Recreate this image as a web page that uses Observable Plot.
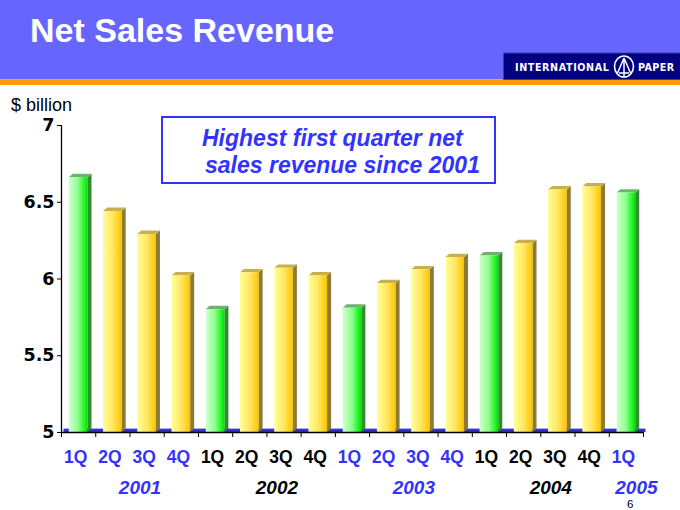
<!DOCTYPE html>
<html>
<head>
<meta charset="utf-8">
<script src="https://cdn.jsdelivr.net/npm/d3@7"></script>
<script src="https://cdn.jsdelivr.net/npm/@observablehq/plot@0.6"></script>
<style>
  html, body { margin: 0; padding: 0; background: #ffffff; }
  #wrap { position: relative; width: 680px; height: 510px; overflow: hidden; font-family: "Liberation Sans", Arial, sans-serif; }
  #chart { position: absolute; left: 0; top: 0; }
  #overlay { position: absolute; left: 0; top: 0; }
</style>
</head>
<body>
<div id="wrap">
  <div id="chart"></div>
  <svg id="overlay" width="680" height="510" xmlns="http://www.w3.org/2000/svg" style="pointer-events:none">
    <rect x="0" y="0" width="680" height="79.5" fill="#6666ff"/>
    <rect x="0" y="79.5" width="680" height="5.5" fill="#ff9900"/>
    <text x="30" y="42" fill="#ffffff" font-family="Liberation Sans, Arial, sans-serif" font-weight="bold" font-size="34">Net Sales Revenue</text>
    <rect x="503.5" y="53" width="177" height="26.5" fill="#000080" stroke="#3c3cb4" stroke-width="1"/>
    <text x="515" y="70.5" fill="#ffffff" font-family="DejaVu Sans, sans-serif" font-weight="bold" font-size="9.6" letter-spacing="0.6">INTERNATIONAL</text>
    <ellipse cx="624" cy="66.5" rx="9.5" ry="10.5" fill="none" stroke="#ffffff" stroke-width="1.6"/>
    <path d="M624,58 L617.5,73 M624,58 L630.5,73 M624,58 L624,77 M619,73 L629,73" fill="none" stroke="#ffffff" stroke-width="1.5"/>
    <text x="638" y="70.5" fill="#ffffff" font-family="DejaVu Sans, sans-serif" font-weight="bold" font-size="9.6" letter-spacing="0.4">PAPER</text>
    <text x="11" y="111" fill="#000000" font-family="Liberation Sans, Arial, sans-serif" font-size="18">$ billion</text>
    <rect x="162" y="117" width="333" height="66" fill="#ffffff" stroke="#3333ff" stroke-width="2"/>
    <text x="202" y="146" fill="#3333ff" font-family="Liberation Sans, Arial, sans-serif" font-weight="bold" font-style="italic" font-size="23">Highest first quarter net</text>
    <text x="205" y="173" fill="#3333ff" font-family="Liberation Sans, Arial, sans-serif" font-weight="bold" font-style="italic" font-size="23">sales revenue since 2001</text>
    <text x="627" y="508" fill="#000000" font-family="Liberation Sans, Arial, sans-serif" font-size="11.5">6</text>
  </svg>
</div>
<script>
// ---- data ----
const quarters = ["1Q","2Q","3Q","4Q","1Q","2Q","3Q","4Q","1Q","2Q","3Q","4Q","1Q","2Q","3Q","4Q","1Q"];
const years    = ["2001","2001","2001","2001","2002","2002","2002","2002","2003","2003","2003","2003","2004","2004","2004","2004","2005"];
const revenue  = [6.66, 6.44, 6.29, 6.02, 5.80, 6.04, 6.07, 6.02, 5.81, 5.97, 6.06, 6.14, 6.15, 6.23, 6.58, 6.60, 6.56];
const yearLabels = ["2001","2002","2003","2004","2005"];
const yTicks = [5, 5.5, 6, 6.5, 7];

// ---- styling constants ----
const BLUE = "#3333ff", BLACK = "#000000";
const HW = 0.272, DX = 0.118, DY = 0.022;
const yearColor = y => (yearLabels.indexOf(y) % 2 === 0 ? BLUE : BLACK);

const data = quarters.map((q, i) => ({i, q, year: years[i], v: revenue[i]}));
const N = data.length;
const isQ1 = d => d.q === "1Q";

const sideFaces = data.flatMap(d => [
  {id: d.i, q: d.q, x: d.i + HW, y1: 5, y2: d.v},
  {id: d.i, q: d.q, x: d.i + HW + DX, y1: 5 + DY, y2: d.v + DY}
]);
const topFaces = data.flatMap(d => [
  {id: d.i, q: d.q, x: d.i - HW, y1: d.v, y2: d.v},
  {id: d.i, q: d.q, x: d.i - HW + DX, y1: d.v, y2: d.v + DY},
  {id: d.i, q: d.q, x: d.i + HW, y1: d.v, y2: d.v + DY},
  {id: d.i, q: d.q, x: d.i + HW + DX, y1: d.v + DY, y2: d.v + DY}
]);
const yearPos = yearLabels.map(y => ({
  year: y,
  x: d3.mean(data.filter(d => d.year === y), d => d.i)
}));
const bounds = d3.range(N + 1).map(k => k - 0.5);

const chart = Plot.plot({
  width: 680,
  height: 510,
  marginLeft: 61,
  marginRight: 37,
  marginTop: 125,
  marginBottom: 78,
  x: {type: "linear", domain: [-0.5, N - 0.5]},
  y: {domain: [5, 7]},
  color: {type: "identity"},
  style: {fontFamily: "Liberation Sans, Arial, sans-serif", background: "transparent", overflow: "visible"},
  marks: [
    // floor
    Plot.rect([0], {x1: -0.5, x2: N - 0.5, y1: 5, y2: 5 + DY, dx: 2.5, fill: "#3333cc"}),
    // side faces
    Plot.areaY(sideFaces, {filter: isQ1, x: "x", y1: "y1", y2: "y2", z: "id", fill: "#2f8f2f"}),
    Plot.areaY(sideFaces, {filter: d => !isQ1(d), x: "x", y1: "y1", y2: "y2", z: "id", fill: "#8c7b36"}),
    // top faces
    Plot.areaY(topFaces, {filter: isQ1, x: "x", y1: "y1", y2: "y2", z: "id", fill: "#6cb46c"}),
    Plot.areaY(topFaces, {filter: d => !isQ1(d), x: "x", y1: "y1", y2: "y2", z: "id", fill: "#c9b04e"}),
    // front faces
    Plot.rect(data, {filter: isQ1, x1: d => d.i - HW, x2: d => d.i + HW, y1: 5, y2: "v", fill: "url(#gGreen)"}),
    Plot.rect(data, {filter: d => !isQ1(d), x1: d => d.i - HW, x2: d => d.i + HW, y1: 5, y2: "v", fill: "url(#gYellow)"}),
    // axes
    Plot.ruleX([-0.5], {stroke: BLACK, strokeWidth: 1.3}),
    Plot.ruleY([5], {stroke: BLACK, strokeWidth: 1.3}),
    Plot.axisY({ticks: yTicks, tickSize: 4, tickPadding: 3, tickFormat: d => String(d),
                fontSize: 17.5, fontWeight: "bold", fontFamily: "DejaVu Sans, sans-serif", label: null, stroke: BLACK}),
    Plot.axisX({ticks: bounds, tickSize: 5, tickFormat: () => "", label: null, stroke: BLACK}),
    // quarter labels
    Plot.text(data, {x: "i", y: () => 5, text: "q", dy: 30, dx: -3, lineAnchor: "bottom",
                     fill: d => yearColor(d.year), fontSize: 17.5, fontWeight: "bold"}),
    // year labels
    Plot.text(yearPos, {x: "x", y: () => 5, text: "year", dy: 61, dx: 10, lineAnchor: "bottom",
                        fill: d => yearColor(d.year), fontSize: 19, fontWeight: "bold", fontStyle: "italic"})
  ]
});

// gradients for the front faces
const ns = "http://www.w3.org/2000/svg";
const defs = document.createElementNS(ns, "defs");
function grad(id, stops) {
  const g = document.createElementNS(ns, "linearGradient");
  g.setAttribute("id", id);
  g.setAttribute("x1", "0"); g.setAttribute("x2", "1");
  g.setAttribute("y1", "0"); g.setAttribute("y2", "0");
  for (const [o, c] of stops) {
    const s = document.createElementNS(ns, "stop");
    s.setAttribute("offset", o);
    s.setAttribute("stop-color", c);
    g.appendChild(s);
  }
  defs.appendChild(g);
}
grad("gGreen", [[0, "#d2ffd2"], [0.5, "#8cff8c"], [0.9, "#11f211"], [1, "#10d010"]]);
grad("gYellow", [[0, "#ffff99"], [0.5, "#ffe866"], [0.9, "#ffcc11"], [1, "#f0c000"]]);
chart.insertBefore(defs, chart.firstChild);

document.getElementById("chart").appendChild(chart);
</script>
</body>
</html>
